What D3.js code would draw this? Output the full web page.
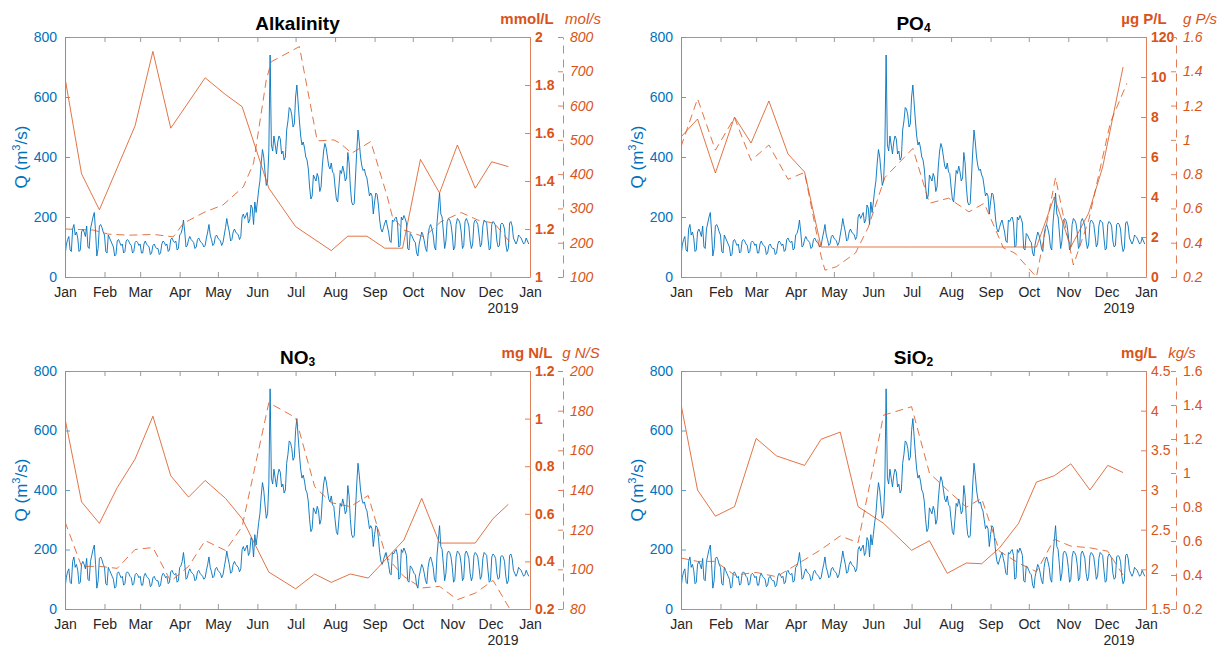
<!DOCTYPE html>
<html>
<head>
<meta charset="utf-8">
<script src="https://cdn.jsdelivr.net/npm/d3@7"></script>
<style>
  body { margin: 0; background: #fff; }
  svg { font-family: "Liberation Sans", Arial, Helvetica, sans-serif; }
</style>
</head>
<body>
<svg id="chart" width="1221" height="650"></svg>
<script>
// ---------------- data ----------------
const monthLabels = ["Jan", "Feb", "Mar", "Apr", "May", "Jun", "Jul", "Aug", "Sep", "Oct", "Nov", "Dec", "Jan"];
const yearLabel = "2019";
const qTicks = [0, 200, 400, 600, 800];

// daily discharge Q (m3/s), 2019-01-01 .. 2019-12-31, one row per week
const qStart = "2019-01-01";
const qDaily = [
  70, 105, 125, 135, 90, 85, 160,
  175, 140, 150, 130, 85, 90, 150,
  160, 150, 135, 170, 100, 95, 160,
  180, 200, 215, 150, 70, 95, 170,
  175, 165, 150, 140, 85, 80, 140,
  130, 120, 110, 100, 70, 75, 120,
  125, 115, 105, 110, 80, 85, 120,
  125, 120, 110, 105, 80, 85, 115,
  120, 115, 105, 110, 80, 80, 110,
  120, 110, 105, 100, 75, 80, 105,
  110, 100, 95, 95, 75, 80, 110,
  120, 115, 105, 110, 85, 90, 125,
  130, 120, 115, 120, 90, 95, 140,
  145, 160, 190, 150, 100, 105, 125,
  135, 125, 120, 115, 95, 100, 125,
  130, 120, 115, 110, 100, 105, 130,
  150, 175, 140, 125, 105, 110, 135,
  140, 130, 125, 120, 105, 115, 140,
  165, 195, 170, 150, 120, 125, 150,
  160, 150, 145, 140, 125, 135, 200,
  210, 195, 205, 215, 180, 190, 240,
  230, 175, 250, 215, 250, 290, 320,
  380, 425, 400, 350, 305, 320, 420,
  740, 440, 420, 470, 440, 410, 450,
  470, 460, 410, 420, 390, 400, 490,
  520, 565, 560, 540, 500, 510, 600,
  640, 580, 520, 470, 440, 450, 430,
  400, 390, 360, 300, 260, 270, 340,
  330, 320, 345, 330, 285, 300, 370,
  420, 445, 430, 400, 370, 360, 380,
  350, 345, 300, 260, 250, 300, 355,
  345, 370, 350, 320, 330, 415, 380,
  300, 250, 240, 245, 330, 420, 490,
  450, 400, 370, 355, 360, 340, 330,
  300, 270, 280, 270, 210, 250, 280,
  275, 240, 190, 160, 150, 165, 180,
  190, 170, 150, 120, 115, 190, 185,
  195, 200, 180, 100, 105, 200, 190,
  205, 195, 180, 95, 90, 145, 140,
  130, 120, 115, 80, 70, 110, 130,
  150, 140, 120, 95, 85, 140, 165,
  175, 160, 140, 100, 90, 180, 230,
  280, 210, 200, 150, 95, 120, 185,
  195, 190, 175, 140, 90, 100, 175,
  195, 190, 180, 150, 95, 105, 185,
  195, 185, 170, 120, 95, 110, 180,
  190, 185, 175, 140, 100, 110, 170,
  190, 185, 180, 130, 90, 95, 175,
  185, 180, 170, 120, 100, 105, 175,
  180, 175, 160, 110, 85, 95, 180,
  185, 170, 130, 120, 110, 120, 140,
  135, 130, 120, 110, 115, 130, 120,
  110
];

// Alkalinity
const alkConcDates = ["2019-01-01", "2019-01-14", "2019-01-28", "2019-02-25", "2019-03-11", "2019-03-25", "2019-04-21", "2019-05-07", "2019-05-20", "2019-06-10", "2019-07-01", "2019-07-29", "2019-08-11", "2019-08-26", "2019-09-09", "2019-09-23", "2019-10-07", "2019-10-22", "2019-11-05", "2019-11-19", "2019-12-02", "2019-12-15"];
const alkConc = [1.83, 1.43, 1.28, 1.63, 1.94, 1.62, 1.83, 1.76, 1.71, 1.37, 1.21, 1.11, 1.17, 1.17, 1.12, 1.12, 1.49, 1.35, 1.55, 1.37, 1.48, 1.46];
const alkFluxDates = ["2019-01-01", "2019-01-23", "2019-02-04", "2019-02-20", "2019-03-12", "2019-03-27", "2019-04-04", "2019-04-21", "2019-05-05", "2019-05-21", "2019-05-29", "2019-06-08", "2019-06-12", "2019-07-04", "2019-07-18", "2019-07-31", "2019-08-05", "2019-08-14", "2019-08-29", "2019-09-11", "2019-09-15", "2019-09-24", "2019-10-10", "2019-10-23", "2019-11-08", "2019-11-21", "2019-12-04", "2019-12-17"];
const alkFlux = [240, 237, 225, 222, 224, 217, 257, 290, 310, 363, 432, 675, 728, 772, 497, 500, 490, 461, 495, 334, 276, 237, 217, 261, 288, 266, 257, 198];
const alkConcTicks = [1, 1.2, 1.4, 1.6, 1.8, 2];
const alkConcLabels = ["1", "1.2", "1.4", "1.6", "1.8", "2"];
const alkFluxTicks = [100, 200, 300, 400, 500, 600, 700, 800];
const alkFluxLabels = ["100", "200", "300", "400", "500", "600", "700", "800"];

// PO4
const po4ConcDates = ["2019-01-01", "2019-01-14", "2019-01-28", "2019-02-12", "2019-02-25", "2019-03-11", "2019-03-26", "2019-04-08", "2019-04-21", "2019-05-07", "2019-05-20", "2019-06-10", "2019-07-01", "2019-07-29", "2019-08-11", "2019-08-26", "2019-09-09", "2019-09-23", "2019-10-07", "2019-10-21", "2019-11-03", "2019-11-17", "2019-11-28", "2019-12-14"];
const po4Conc = [7.0, 7.9, 5.2, 8.0, 6.7, 8.8, 6.15, 5.25, 1.5, 1.5, 1.5, 1.5, 1.5, 1.5, 1.5, 1.5, 1.5, 1.5, 1.5, 4.0, 1.5, 3.2, 5.5, 10.5];
const po4FluxDates = ["2019-01-01", "2019-01-14", "2019-01-28", "2019-02-12", "2019-02-25", "2019-03-11", "2019-03-26", "2019-04-08", "2019-04-21", "2019-04-24", "2019-05-03", "2019-05-18", "2019-05-28", "2019-06-10", "2019-07-02", "2019-07-15", "2019-07-30", "2019-08-15", "2019-08-27", "2019-09-11", "2019-09-20", "2019-10-07", "2019-10-22", "2019-11-05", "2019-11-17", "2019-12-04", "2019-12-17"];
const po4Flux = [0.96, 1.24, 0.94, 1.13, 0.88, 0.97, 0.77, 0.81, 0.32, 0.24, 0.26, 0.34, 0.49, 0.78, 0.95, 0.63, 0.66, 0.58, 0.63, 0.37, 0.34, 0.20, 0.78, 0.27, 0.53, 1.10, 1.33];
const po4ConcTicks = [0, 2, 4, 6, 8, 10, 12];
const po4ConcLabels = ["0", "2", "4", "6", "8", "10", "120"];
const po4FluxTicks = [0.2, 0.4, 0.6, 0.8, 1, 1.2, 1.4, 1.6];
const po4FluxLabels = ["0.2", "0.4", "0.6", "0.8", "1", "1.2", "1.4", "1.6"];

// NO3
const no3ConcDates = ["2019-01-01", "2019-01-14", "2019-01-28", "2019-02-11", "2019-02-25", "2019-03-11", "2019-03-25", "2019-04-08", "2019-04-21", "2019-05-07", "2019-05-20", "2019-06-10", "2019-07-01", "2019-07-16", "2019-07-29", "2019-08-13", "2019-08-27", "2019-09-24", "2019-10-08", "2019-10-22", "2019-11-19", "2019-12-03", "2019-12-15"];
const no3Conc = [1.0, 0.65, 0.56, 0.71, 0.83, 1.01, 0.76, 0.67, 0.74, 0.665, 0.58, 0.355, 0.285, 0.347, 0.312, 0.347, 0.33, 0.49, 0.665, 0.477, 0.477, 0.58, 0.64];
const no3FluxDates = ["2019-01-01", "2019-01-14", "2019-01-28", "2019-02-11", "2019-02-25", "2019-03-11", "2019-03-25", "2019-04-08", "2019-04-21", "2019-05-07", "2019-05-20", "2019-06-10", "2019-07-01", "2019-07-16", "2019-07-29", "2019-08-13", "2019-08-27", "2019-09-10", "2019-09-24", "2019-10-08", "2019-10-22", "2019-11-05", "2019-11-19", "2019-12-03", "2019-12-18"];
const no3Flux = [124, 101.5, 101.5, 100.5, 110, 111, 94, 101.5, 114.5, 109.5, 121.5, 184, 176.5, 141.7, 133.6, 131.6, 137.2, 106.5, 96.4, 90.6, 91.4, 84.7, 88, 94.4, 78];
const no3ConcTicks = [0.2, 0.4, 0.6, 0.8, 1, 1.2];
const no3ConcLabels = ["0.2", "0.4", "0.6", "0.8", "1", "1.2"];
const no3FluxTicks = [80, 100, 120, 140, 160, 180, 200];
const no3FluxLabels = ["80", "100", "120", "140", "160", "180", "200"];

// SiO2
const sioConcDates = ["2019-01-01", "2019-01-14", "2019-01-28", "2019-02-12", "2019-03-01", "2019-03-17", "2019-04-08", "2019-04-21", "2019-05-06", "2019-05-20", "2019-06-09", "2019-07-01", "2019-07-15", "2019-07-29", "2019-08-13", "2019-08-25", "2019-09-08", "2019-09-23", "2019-10-07", "2019-10-21", "2019-11-03", "2019-11-18", "2019-12-02", "2019-12-14"];
const sioConc = [4.08, 3.0, 2.67, 2.79, 3.65, 3.43, 3.31, 3.64, 3.73, 2.79, 2.58, 2.24, 2.36, 1.95, 2.08, 2.07, 2.27, 2.58, 3.1, 3.18, 3.33, 3.0, 3.31, 3.22];
const sioFluxDates = sioConcDates;
const sioFlux = [0.50, 0.48, 0.48, 0.40, 0.415, 0.39, 0.49, 0.55, 0.63, 0.59, 1.34, 1.39, 1.0, 0.90, 0.80, 0.85, 0.54, 0.47, 0.42, 0.61, 0.57, 0.56, 0.54, 0.40];
const sioConcTicks = [1.5, 2, 2.5, 3, 3.5, 4, 4.5];
const sioConcLabels = ["1.5", "2", "2.5", "3", "3.5", "4", "4.5"];
const sioFluxTicks = [0.2, 0.4, 0.6, 0.8, 1, 1.2, 1.4, 1.6];
const sioFluxLabels = ["0.2", "0.4", "0.6", "0.8", "1", "1.2", "1.4", "1.6"];

// ---------------- drawing ----------------
const blue = "#0072BD", orange = "#D95319", dark = "#262626";
const parse = d3.timeParse("%Y-%m-%d");
const xStart = parse("2019-01-01"), xEnd = parse("2020-01-01");
const monthTicks = d3.timeMonth.range(xStart, d3.timeDay.offset(xEnd, 1));
const qDates = qDaily.map((d, i) => d3.timeDay.offset(parse(qStart), i));

const svg = d3.select("#chart");

const panels = [
  { id: 1, title: "Alkalinity", sub: "", left: 65, right: 530, top: 37, bottom: 277, off2: 33,
    unit1: "mmol/L", unit2: "mol/s", u1x: -3, u2x: 53, bold1: true, ital2: true,
    cDates: alkConcDates, conc: alkConc, fDates: alkFluxDates, flux: alkFlux,
    cTicks: alkConcTicks, cLabels: alkConcLabels, fTicks: alkFluxTicks, fLabels: alkFluxLabels },
  { id: 2, title: "PO", sub: "4", left: 681, right: 1146, top: 37, bottom: 277, off2: 30,
    unit1: "\u00b5g P/L", unit2: "g P/s", u1x: -2, u2x: 54, bold1: true, ital2: true,
    cDates: po4ConcDates, conc: po4Conc, fDates: po4FluxDates, flux: po4Flux,
    cTicks: po4ConcTicks, cLabels: po4ConcLabels, fTicks: po4FluxTicks, fLabels: po4FluxLabels },
  { id: 3, title: "NO", sub: "3", left: 65, right: 530, top: 371, bottom: 609, off2: 33,
    unit1: "mg N/L", unit2: "g N/S", u1x: -3, u2x: 51, bold1: true, ital2: true,
    cDates: no3ConcDates, conc: no3Conc, fDates: no3FluxDates, flux: no3Flux,
    cTicks: no3ConcTicks, cLabels: no3ConcLabels, fTicks: no3FluxTicks, fLabels: no3FluxLabels },
  { id: 4, title: "SiO", sub: "2", left: 681, right: 1146, top: 371, bottom: 609, off2: 30,
    unit1: "mg/L", unit2: "kg/s", u1x: -7, u2x: 36, bold1: false, ital2: false,
    cDates: sioConcDates, conc: sioConc, fDates: sioFluxDates, flux: sioFlux,
    cTicks: sioConcTicks, cLabels: sioConcLabels, fTicks: sioFluxTicks, fLabels: sioFluxLabels }
];

function styleAxis(a, lineColor, textColor) {
  a.attr("font-family", null).attr("font-size", 14);
  a.select(".domain").attr("stroke", lineColor);
  a.selectAll(".tick line").attr("stroke", lineColor);
  a.selectAll(".tick text").attr("fill", textColor);
}

function drawPanel(p) {
  const g = svg.append("g").attr("class", "panel-" + p.id);

  const x = d3.scaleTime().domain([xStart, xEnd]).range([p.left, p.right]);
  const yQ = d3.scaleLinear().domain([0, 800]).range([p.bottom, p.top]);
  const yC = d3.scaleLinear().domain(d3.extent(p.cTicks)).range([p.bottom, p.top]);
  const yF = d3.scaleLinear().domain(d3.extent(p.fTicks)).range([p.bottom, p.top]);

  svg.append("clipPath").attr("id", "clip" + p.id)
    .append("rect")
    .attr("x", p.left).attr("y", p.top)
    .attr("width", p.right - p.left).attr("height", p.bottom - p.top);

  const plot = g.append("g").attr("clip-path", `url(#clip${p.id})`);

  // discharge
  plot.append("path")
    .datum(qDaily)
    .attr("fill", "none")
    .attr("stroke", blue)
    .attr("stroke-width", 0.9)
    .attr("stroke-linejoin", "round")
    .attr("d", d3.line().x((d, i) => x(qDates[i])).y(d => yQ(d)));

  // concentration (solid)
  plot.append("path")
    .datum(p.conc)
    .attr("fill", "none")
    .attr("stroke", orange)
    .attr("stroke-opacity", 0.8)
    .attr("stroke-width", 1)
    .attr("d", d3.line().x((d, i) => x(parse(p.cDates[i]))).y(d => yC(d)));

  // flux (dashed)
  plot.append("path")
    .datum(p.flux)
    .attr("fill", "none")
    .attr("stroke", orange)
    .attr("stroke-opacity", 0.8)
    .attr("stroke-width", 1)
    .attr("stroke-dasharray", "8,5")
    .attr("d", d3.line().x((d, i) => x(parse(p.fDates[i]))).y(d => yF(d)));

  // top box line with month ticks
  g.append("g")
    .attr("transform", `translate(0,${p.top})`)
    .call(d3.axisTop(x).tickValues(monthTicks).tickFormat("").tickSizeInner(-5).tickSizeOuter(0))
    .call(a => styleAxis(a, "#9a9a9a", dark));

  // bottom month axis
  g.append("g")
    .attr("transform", `translate(0,${p.bottom})`)
    .call(d3.axisBottom(x).tickValues(monthTicks).tickFormat((d, i) => monthLabels[i])
      .tickSizeInner(-5).tickSizeOuter(0).tickPadding(10))
    .call(a => styleAxis(a, "#9a9a9a", dark));

  g.append("text")
    .attr("x", p.right - 27).attr("y", p.bottom + 36)
    .attr("text-anchor", "middle").attr("font-size", 14).attr("fill", dark)
    .text(yearLabel);

  // left Q axis
  g.append("g")
    .attr("transform", `translate(${p.left},0)`)
    .call(d3.axisLeft(yQ).tickValues(qTicks).tickSizeInner(-5).tickSizeOuter(0).tickPadding(8))
    .call(a => styleAxis(a, "#5a9fd4", blue));

  const ql = g.append("text")
    .attr("transform", `translate(${p.left - 38},${(p.top + p.bottom) / 2}) rotate(-90)`)
    .attr("text-anchor", "middle").attr("font-size", 17).attr("fill", blue);
  ql.append("tspan").text("Q (m");
  ql.append("tspan").attr("font-size", 11).attr("dy", -7).text("3");
  ql.append("tspan").attr("dy", 7).text("/s)");

  // right concentration axis
  g.append("g")
    .attr("transform", `translate(${p.right},0)`)
    .call(d3.axisRight(yC).tickValues(p.cTicks).tickFormat((d, i) => p.cLabels[i])
      .tickSizeInner(-5).tickSizeOuter(0).tickPadding(5))
    .call(a => {
      styleAxis(a, "#e0805a", orange);
      a.selectAll(".tick text").attr("font-weight", p.bold1 ? "bold" : null);
    });

  // second (flux) axis, dashed spine
  g.append("g")
    .attr("transform", `translate(${p.right + p.off2},0)`)
    .call(d3.axisRight(yF).tickValues(p.fTicks).tickFormat((d, i) => p.fLabels[i])
      .tickSizeInner(-5).tickSizeOuter(0).tickPadding(7))
    .call(a => {
      styleAxis(a, "#e0805a", orange);
      a.select(".domain").attr("stroke-dasharray", "8,6");
      a.selectAll(".tick text").attr("font-style", p.ital2 ? "italic" : null);
    });

  // title
  const t = g.append("text")
    .attr("x", (p.left + p.right) / 2).attr("y", p.top - 7)
    .attr("text-anchor", "middle").attr("font-size", 19).attr("font-weight", "bold").attr("fill", "#000");
  t.append("tspan").text(p.title);
  if (p.sub) t.append("tspan").attr("font-size", 12).attr("dy", 2).text(p.sub);

  // unit labels
  g.append("text")
    .attr("x", p.right + p.u1x).attr("y", p.top - 13)
    .attr("text-anchor", "middle").attr("font-size", 15).attr("font-weight", "bold").attr("fill", orange)
    .text(p.unit1);
  g.append("text")
    .attr("x", p.right + p.u2x).attr("y", p.top - 13)
    .attr("text-anchor", "middle").attr("font-size", 15).attr("font-style", "italic").attr("fill", orange)
    .text(p.unit2);
}

panels.forEach(drawPanel);
</script>
</body>
</html>
